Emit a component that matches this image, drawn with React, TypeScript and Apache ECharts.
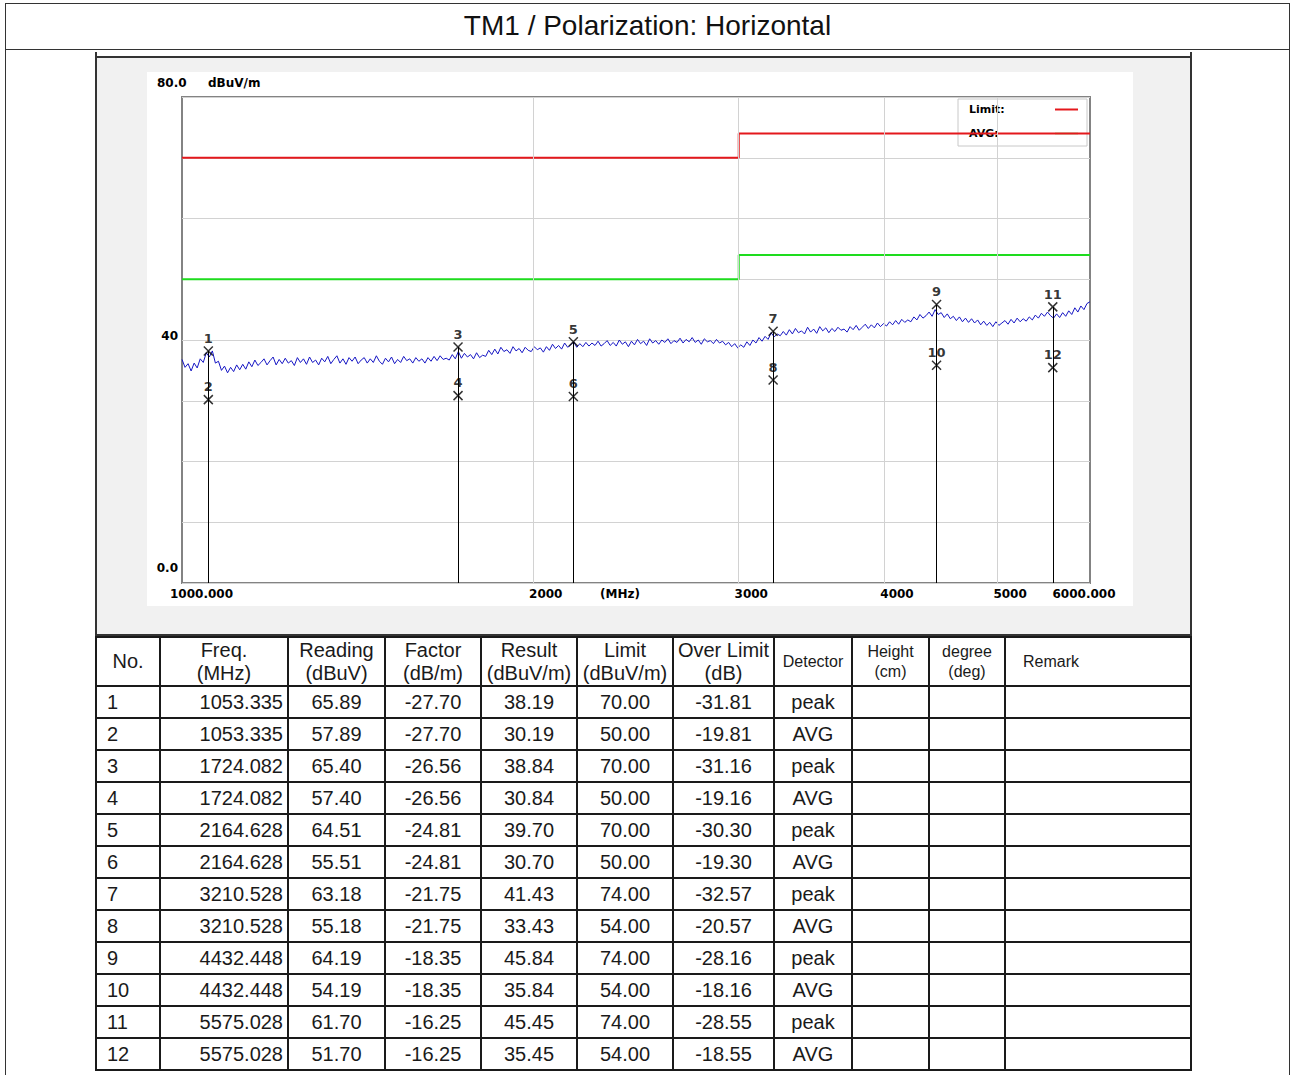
import React, { useEffect, useRef } from 'react';
import * as echarts from 'echarts';

// ---------- data ----------
const TITLE = 'TM1 / Polarization: Horizontal';
const Y_UNIT = 'dBuV/m';
const Y_TOP_LABEL = '80.0';
const X_UNIT = '(MHz)';
const Y_MIN = 0;
const Y_MAX = 80;
const Y_STEP = 10;

const SWEEP_START = 1000;
const SWEEP_STOP = 6000;
const X_TICK_FREQS = [1000, 2000, 3000, 4000, 5000, 6000];
const X_TICK_LABELS = ['1000.000', '2000', '3000', '4000', '5000', '6000.000'];
const GRID_FREQS = [2000, 3000, 4000, 5000];

const LIMIT_FREQS = [1000, 3000, 3000, 6000];
const LIMIT_PEAK = [70, 70, 74, 74];
const LIMIT_AVG = [50, 50, 54, 54];

// measured trace (dBuV/m), sweep points spread evenly over the log axis
const TRACE = [
  36.8, 35.5, 36.1, 34.9, 36.2, 35.4, 36.9, 36.3, 37.9, 37.2, 38.2, 36.2, 36.5, 35.0, 35.7, 34.6, 35.5, 34.8, 35.9, 35.1,
  36.0, 35.2, 36.4, 35.6, 36.7, 35.8, 36.3, 36.9, 35.9, 36.6, 37.2, 35.9, 36.8, 36.1, 37.0, 36.2, 36.6, 35.8, 37.1, 36.3,
  36.9, 36.0, 37.2, 36.3, 36.7, 35.9, 37.0, 36.4, 37.3, 36.1, 36.8, 37.4, 36.2, 36.9, 36.0, 37.1, 36.5, 37.2, 36.1, 36.7,
  37.1, 36.2, 36.9, 36.3, 37.4, 36.5, 36.0, 37.0, 36.4, 37.2, 36.1, 36.8, 36.3, 37.3, 36.6, 36.9, 36.2, 37.1, 36.5, 36.9,
  36.2, 37.1, 36.5, 37.3, 36.6, 37.4, 36.8, 37.0, 36.7, 37.6, 36.9, 38.1, 37.0, 37.8, 37.2, 37.6, 36.9, 37.9, 37.1, 37.5,
  37.3, 38.3, 37.6, 38.5, 37.7, 38.8, 38.1, 38.4, 37.8, 38.9, 38.2, 38.6, 37.9, 38.8, 38.3, 38.1, 38.9, 38.4, 38.7, 38.0,
  38.9, 38.3, 39.3, 38.6, 39.1, 38.5, 39.5, 38.8, 39.2, 39.7, 38.8, 39.4, 38.9, 39.6, 39.0, 39.5, 39.1, 39.8, 39.0, 39.4,
  39.9, 39.1, 39.6, 39.0, 40.0, 39.3, 39.7, 38.9, 39.8, 39.2, 40.1, 39.4, 39.8, 39.1, 40.2, 39.5, 39.9, 39.3, 40.0, 39.6,
  40.2, 39.4, 39.9, 39.6, 40.3, 39.5, 40.1, 39.7, 40.4, 39.6, 40.0, 39.3, 40.2, 39.7, 39.9, 39.4, 40.1, 39.5, 39.8, 39.2,
  39.6, 38.9, 39.4, 38.7, 39.2, 38.8, 39.7, 39.1, 40.0, 39.5, 40.4, 39.8, 40.6, 40.1, 41.2, 40.5, 41.0, 40.7, 41.4, 40.8,
  41.7, 41.0, 41.9, 41.2, 41.5, 41.0, 42.1, 41.3, 41.8, 41.1, 42.2, 41.5, 42.0, 41.2, 41.9, 41.4, 42.1, 41.6, 41.8, 41.3,
  42.2, 41.7, 42.4, 41.6, 42.1, 42.6, 41.9, 42.5, 42.0, 42.8, 42.2, 42.7, 42.3, 43.0, 42.5, 43.2, 42.6, 43.4, 42.9, 43.3,
  43.0, 43.8, 43.3, 44.2, 43.6, 44.0, 44.6, 43.9, 45.0, 44.2, 44.5, 43.7, 44.3, 43.5, 43.9, 43.2, 43.8, 43.0, 43.6, 42.9,
  43.5, 42.8, 43.3, 42.5, 43.1, 42.4, 42.9, 42.2, 43.0, 42.4, 42.8, 43.2, 42.6, 43.4, 42.8, 43.6, 43.0, 43.5, 43.1, 43.8,
  43.3, 44.1, 43.6, 44.4, 43.9, 44.6, 44.0, 43.6, 44.3, 43.7, 44.5, 43.9, 44.8, 44.2, 45.3, 44.6, 45.6, 45.0, 46.0, 46.3,
];

const MARK_NO = [1, 2, 3, 4, 5, 6, 7, 8, 9, 10, 11, 12];
const FREQ = [1053.335, 1053.335, 1724.082, 1724.082, 2164.628, 2164.628, 3210.528, 3210.528, 4432.448, 4432.448, 5575.028, 5575.028];
const READING = [65.89, 57.89, 65.4, 57.4, 64.51, 55.51, 63.18, 55.18, 64.19, 54.19, 61.7, 51.7];
const FACTOR = [-27.7, -27.7, -26.56, -26.56, -24.81, -24.81, -21.75, -21.75, -18.35, -18.35, -16.25, -16.25];
const RESULT = [38.19, 30.19, 38.84, 30.84, 39.7, 30.7, 41.43, 33.43, 45.84, 35.84, 45.45, 35.45];
const LIMIT = [70, 50, 70, 50, 70, 50, 74, 54, 74, 54, 74, 54];
const OVER = [-31.81, -19.81, -31.16, -19.16, -30.3, -19.3, -32.57, -20.57, -28.16, -18.16, -28.55, -18.55];
const DETECTOR = ['peak', 'AVG', 'peak', 'AVG', 'peak', 'AVG', 'peak', 'AVG', 'peak', 'AVG', 'peak', 'AVG'];

const HEADERS = [
  ['No.'],
  ['Freq.', '(MHz)'],
  ['Reading', '(dBuV)'],
  ['Factor', '(dB/m)'],
  ['Result', '(dBuV/m)'],
  ['Limit', '(dBuV/m)'],
  ['Over Limit', '(dB)'],
  ['Detector'],
  ['Height', '(cm)'],
  ['degree', '(deg)'],
  ['Remark'],
];
const SMALL_HEADER = [false, false, false, false, false, false, false, true, true, true, true];
const COL_W = [64, 128, 97, 96, 96, 96, 101, 78, 77, 76, 186];

// ---------- styles ----------
const RED = '#e4181c';
const GREEN = '#1edc1e';
const BLUE = '#1616c4';
const AXIS_FONT = '"DejaVu Sans", Verdana, sans-serif';
const SANS = '"Liberation Sans", Arial, Helvetica, sans-serif';

function buildOption() {
  const n = TRACE.length;
  const traceData = TRACE.map((v, i) => [SWEEP_START * Math.pow(SWEEP_STOP / SWEEP_START, i / (n - 1)), v]);
  const peakData = LIMIT_FREQS.map((f, i) => [f, LIMIT_PEAK[i]]);
  const avgData = LIMIT_FREQS.map((f, i) => [f, LIMIT_AVG[i]]);
  const markers = FREQ.map((f, i) => ({ value: [f, RESULT[i]], name: String(MARK_NO[i]) }));
  const stems: any[] = [];
  FREQ.forEach((f, i) => {
    if (DETECTOR[i] === 'peak') stems.push([{ coord: [f, Y_MIN] }, { coord: [f, RESULT[i]] }]);
  });
  const axisText = { fontFamily: AXIS_FONT, fontWeight: 'bold' as const, fontSize: 12, color: '#000' };
  const logMin = Math.log10(SWEEP_START);
  const logMax = Math.log10(SWEEP_STOP);
  const tickLogs = X_TICK_FREQS.map((f) => Math.log10(f));

  return {
    animation: false,
    backgroundColor: '#ffffff',
    grid: {
      left: 35, right: 43, top: 25, bottom: 23,
      show: true, borderColor: '#838383', borderWidth: 2, backgroundColor: 'transparent',
      outerBoundsMode: 'none',
    },
    xAxis: [
      {
        type: 'log', logBase: 10, min: SWEEP_START, max: SWEEP_STOP,
        axisLine: { show: false }, axisTick: { show: false }, axisLabel: { show: false }, splitLine: { show: false },
      },
      {
        type: 'value', min: logMin, max: logMax, position: 'bottom',
        axisLine: { show: false }, axisTick: { show: false }, splitLine: { show: false },
        axisLabel: {
          ...axisText,
          margin: 5,
          customValues: tickLogs,
          formatter: (v: number) => {
            let best = 0;
            tickLogs.forEach((t, i) => { if (Math.abs(t - v) < Math.abs(tickLogs[best] - v)) best = i; });
            const key = best === 0 ? 'f' : best === tickLogs.length - 1 ? 'l' : 'm';
            return `{${key}|${X_TICK_LABELS[best]}}`;
          },
          rich: {
            f: { ...axisText, padding: [0, 0, 0, 39] },
            m: { ...axisText, padding: [0, 0, 0, 25] },
            l: { ...axisText, padding: [0, 12, 0, 0] },
          },
        },
      },
    ],
    yAxis: {
      type: 'value', min: Y_MIN, max: Y_MAX, interval: Y_STEP,
      axisLine: { show: false }, axisTick: { show: false },
      splitLine: { show: true, lineStyle: { color: '#d2d2d2', width: 1 } },
      axisLabel: {
        ...axisText,
        margin: 4,
        formatter: (v: number) => (v === 40 ? '{m|40}' : v === 0 ? '{b|0.0}' : ''),
        rich: {
          m: { ...axisText, padding: [0, 0, 8, 0] },
          b: { ...axisText, padding: [0, 0, 30, 0] },
        },
      },
    },
    legend: {
      data: [
        { name: 'Limit:', itemStyle: { color: RED } },
        { name: 'AVG:', itemStyle: { color: '#a6e6a0' } },
      ],
      orient: 'vertical', left: 811, top: 27, align: 'right', icon: 'rect',
      itemWidth: 23, itemHeight: 2, itemGap: 13,
      padding: [5, 9, 7, 11],
      backgroundColor: '#ffffff', borderColor: '#c8c8c8', borderWidth: 1,
      selectedMode: false, z: 3,
      formatter: (name: string) => `{a|${name}}`,
      textStyle: {
        fontFamily: AXIS_FONT, fontWeight: 'bold', fontSize: 11, color: '#000',
        rich: { a: { fontFamily: AXIS_FONT, fontWeight: 'bold', fontSize: 11, color: '#000', width: 81, align: 'left' } },
      },
    },
    graphic: [
      { type: 'text', x: 10, y: 11, style: { text: Y_TOP_LABEL, font: `bold 12px ${AXIS_FONT}`, fill: '#000', textVerticalAlign: 'middle' } },
      { type: 'text', x: 61, y: 11, style: { text: Y_UNIT, font: `bold 12px ${AXIS_FONT}`, fill: '#000', textVerticalAlign: 'middle' } },
      { type: 'text', x: 453, y: 522, style: { text: X_UNIT, font: `bold 12px ${AXIS_FONT}`, fill: '#000', textVerticalAlign: 'middle' } },
    ],
    series: [
      {
        name: 'trace', type: 'line', xAxisIndex: 0, yAxisIndex: 0, z: 2,
        data: traceData, showSymbol: false, symbol: 'none',
        lineStyle: { color: BLUE, width: 1 },
        markLine: {
          silent: true, symbol: ['none', 'none'], label: { show: false },
          lineStyle: { color: '#d2d2d2', width: 1, type: 'solid' },
          data: GRID_FREQS.map((f) => ({ xAxis: f })),
        },
      },
      {
        name: 'Limit:', type: 'line', xAxisIndex: 0, yAxisIndex: 0, z: 4,
        data: peakData, showSymbol: false, symbol: 'none',
        lineStyle: { color: RED, width: 2 }, itemStyle: { color: RED },
      },
      {
        name: 'AVG:', type: 'line', xAxisIndex: 0, yAxisIndex: 0, z: 4,
        data: avgData, showSymbol: false, symbol: 'none',
        lineStyle: { color: GREEN, width: 2 }, itemStyle: { color: GREEN },
      },
      {
        name: 'markers', type: 'scatter', xAxisIndex: 0, yAxisIndex: 0, z: 5,
        data: markers,
        symbol: 'path://M0,0L10,10M10,0L0,10', symbolSize: 9,
        itemStyle: { color: 'transparent', borderColor: '#000', borderWidth: 1.5 },
        label: {
          show: true, position: 'top', distance: 1,
          formatter: (p: any) => p.name, ...axisText, fontSize: 13,
        },
        markLine: {
          silent: true, symbol: ['none', 'none'], label: { show: false },
          lineStyle: { color: '#000', width: 1, type: 'solid' },
          data: stems,
        },
      },
    ],
  };
}

const cellBase: React.CSSProperties = {
  border: '2px solid #1a1a1a',
  padding: 0,
  fontSize: 20,
  lineHeight: '23px',
  textAlign: 'center',
  verticalAlign: 'middle',
  whiteSpace: 'nowrap',
  overflow: 'hidden',
};

export default function App() {
  const ref = useRef<HTMLDivElement>(null);
  useEffect(() => {
    if (!ref.current) return;
    const chart = echarts.init(ref.current, null, { renderer: 'svg' });
    chart.setOption(buildOption() as any);
    return () => chart.dispose();
  }, []);

  const fmt2 = (v: number) => v.toFixed(2);

  return (
    <div style={{ position: 'absolute', left: 0, top: 0, width: 1293, height: 1075, overflow: 'hidden', background: '#fff', fontFamily: SANS, color: '#1a1a1a' }}>
      {/* outer frame */}
      <div style={{ position: 'absolute', left: 5, top: 3, width: 1285, height: 1100, borderLeft: '1px solid #333', borderRight: '1px solid #333', borderTop: '1px solid #333', boxSizing: 'border-box' }} />
      <div style={{ position: 'absolute', left: 5, top: 3, width: 1285, height: 47, borderBottom: '1px solid #333', boxSizing: 'border-box', textAlign: 'center', fontSize: 28, lineHeight: '46px', color: '#111' }}>
        {TITLE}
      </div>
      {/* chart panel */}
      <div style={{ position: 'absolute', left: 95, top: 52, width: 1097, height: 584, borderLeft: '2px solid #333', borderRight: '2px solid #333', borderBottom: '2px solid #333', boxSizing: 'border-box' }} />
      <div style={{ position: 'absolute', left: 97, top: 56, width: 1093, height: 578, background: '#f1f1f1', borderTop: '2px solid #333', boxSizing: 'border-box' }} />
      <div ref={ref} style={{ position: 'absolute', left: 147, top: 72, width: 986, height: 534 }} />
      {/* table */}
      <table style={{ position: 'absolute', left: 95, top: 636, width: 1097, borderCollapse: 'collapse', tableLayout: 'fixed', fontFamily: SANS, color: '#1a1a1a' }}>
        <colgroup>
          {COL_W.map((w, i) => (<col key={i} style={{ width: w }} />))}
        </colgroup>
        <tbody>
          <tr style={{ height: 49 }}>
            {HEADERS.map((h, i) => (
              <td key={i} style={{
                ...cellBase,
                fontSize: SMALL_HEADER[i] ? 16 : 20,
                lineHeight: SMALL_HEADER[i] ? '20px' : '23px',
                textAlign: i === HEADERS.length - 1 ? 'left' : 'center',
                paddingLeft: i === HEADERS.length - 1 ? 17 : 0,
              }}>
                {h.map((line, k) => (<React.Fragment key={k}>{k > 0 && <br />}{line}</React.Fragment>))}
              </td>
            ))}
          </tr>
          {MARK_NO.map((no, r) => (
            <tr key={r} style={{ height: 32 }}>
              <td style={{ ...cellBase, textAlign: 'left', paddingLeft: 10 }}>{no}</td>
              <td style={{ ...cellBase, textAlign: 'right', paddingRight: 4 }}>{FREQ[r].toFixed(3)}</td>
              <td style={cellBase}>{fmt2(READING[r])}</td>
              <td style={cellBase}>{fmt2(FACTOR[r])}</td>
              <td style={cellBase}>{fmt2(RESULT[r])}</td>
              <td style={cellBase}>{fmt2(LIMIT[r])}</td>
              <td style={cellBase}>{fmt2(OVER[r])}</td>
              <td style={cellBase}>{DETECTOR[r]}</td>
              <td style={cellBase}></td>
              <td style={cellBase}></td>
              <td style={cellBase}></td>
            </tr>
          ))}
        </tbody>
      </table>
    </div>
  );
}
